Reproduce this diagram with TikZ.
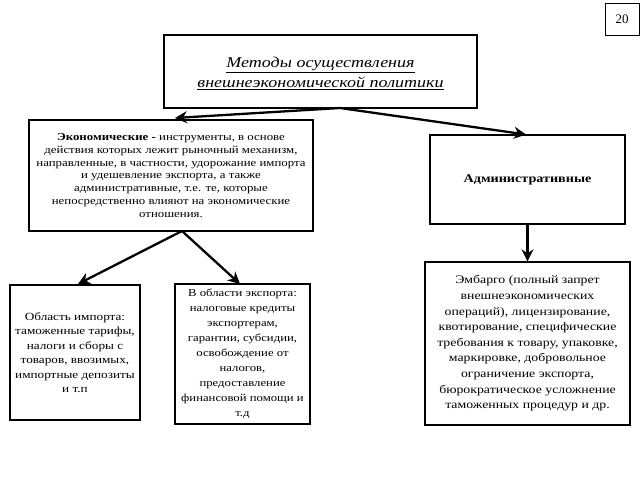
\documentclass[tikz,border=0pt]{standalone}
\usepackage{fontspec}
\setmainfont{Liberation Serif}
\newfontfamily\wideserif[FakeStretch=1.2]{Liberation Serif}
\usetikzlibrary{arrows.meta,shadows}
\begin{document}
\begin{tikzpicture}[x=1pt,y=-1pt,
  box/.style={draw=black,line width=1.3pt,fill=white,inner sep=0pt,
    drop shadow={shadow xshift=1.2pt,shadow yshift=-1.2pt,fill=gray!70,opacity=1}},
  txt/.style={align=center},
  arr/.style={-{Stealth[length=12pt,width=12pt]},line width=2.3pt}]
\useasboundingbox (0,0) rectangle (640,480);
% page number
\node[draw=black,line width=0.8pt,minimum width=34pt,minimum height=32pt,font=\fontsize{13}{15}\selectfont] (num) at (622,19) {20};
% title
\node[box,minimum width=313pt,minimum height=73pt] (title) at (320.5,71.5) {};
\node[align=center,font=\wideserif\fontsize{15}{20}\selectfont\itshape] (titletext) at ([yshift=-2pt]title.center) {\underline{Методы осуществления}\\\underline{внешнеэкономической политики}};
% economic
\node[box,minimum width=284pt,minimum height=111pt] (econ) at (171,175.5) {};
\node[txt,font=\wideserif\fontsize{10.7}{12.8}\selectfont] (econtext) at (econ.center) {\textbf{Экономические -} инструменты, в основе\\действия которых лежит рыночный механизм,\\направленные, в частности, удорожание импорта\\и удешевление экспорта, а также\\административные, т.е. те, которые\\непосредственно влияют на экономические\\отношения.};
% administrative
\node[box,minimum width=195pt,minimum height=89pt] (adm) at (527.5,179.5) {};
\node[font=\wideserif\fontsize{11.8}{14}\selectfont\bfseries] (admtext) at (adm.center) {Административные};
% import
\node[box,minimum width=130pt,minimum height=135pt] (imp) at (75,352.5) {};
\node[txt,font=\wideserif\fontsize{11}{14.5}\selectfont] (imptext) at (imp.center) {Область импорта:\\таможенные тарифы,\\налоги и сборы с\\товаров, ввозимых,\\импортные депозиты\\и т.п};
% export
\node[box,minimum width=135pt,minimum height=140pt] (exp) at (242.5,354) {};
\node[txt,font=\wideserif\fontsize{10.6}{15}\selectfont] (exptext) at (exp.center) {В области экспорта:\\налоговые кредиты\\экспортерам,\\гарантии, субсидии,\\освобождение от\\налогов,\\предоставление\\финансовой помощи и\\т.д};
% embargo
\node[box,minimum width=205pt,minimum height=163pt] (emb) at (527.5,343.5) {};
\node[txt,font=\wideserif\fontsize{11.5}{15.6}\selectfont] (embtext) at (emb.center) {Эмбарго (полный запрет\\внешнеэкономических\\операций), лицензирование,\\квотирование, специфические\\требования к товару, упаковке,\\маркировке, добровольное\\ограничение экспорта,\\бюрократическое усложнение\\таможенных процедур и др.};
% arrows
\coordinate (ts) at (340,108);
\coordinate (es) at (182,231);
\draw[arr] (ts) -- (175,118);
\draw[arr] (ts) -- (526,134.5);
\draw[arr] (es) -- (78,284);
\draw[arr] (es) -- (240,284);
\draw[arr] (adm.south) -- (emb.north);
\end{tikzpicture}
\end{document}
